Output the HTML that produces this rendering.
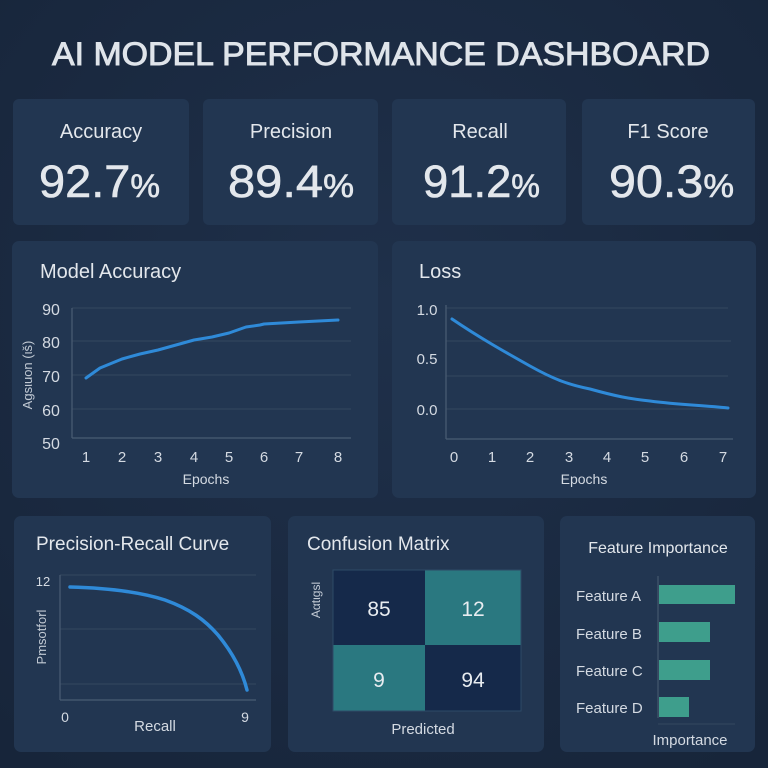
<!DOCTYPE html>
<html><head><meta charset="utf-8"><style>
html,body{margin:0;padding:0;background:#1b2a40;}
svg{display:block;font-family:"Liberation Sans","DejaVu Sans",sans-serif;}
</style></head><body>
<svg width="768" height="768" viewBox="0 0 768 768" xmlns="http://www.w3.org/2000/svg">
<defs><radialGradient id="bg" cx="50%" cy="40%" r="75%"><stop offset="0" stop-color="#1f304a"/><stop offset="1" stop-color="#17253a"/></radialGradient></defs>
<rect width="768" height="768" fill="url(#bg)"/>
<text x="52" y="65" font-size="32" fill="#dfe4ea" stroke="#dfe4ea" stroke-width="0.9" textLength="658" lengthAdjust="spacingAndGlyphs">AI MODEL PERFORMANCE DASHBOARD</text>
<g fill="#223651">
<rect x="13" y="99" width="176" height="126" rx="6"/>
<rect x="203" y="99" width="175" height="126" rx="6"/>
<rect x="392" y="99" width="174" height="126" rx="6"/>
<rect x="582" y="99" width="173" height="126" rx="6"/>
<rect x="12" y="241" width="366" height="257" rx="7"/>
<rect x="392" y="241" width="364" height="257" rx="7"/>
<rect x="14" y="516" width="257" height="236" rx="7"/>
<rect x="288" y="516" width="256" height="236" rx="7"/>
<rect x="560" y="516" width="195" height="236" rx="7"/>
</g>
<g fill="#e3e7ec" text-anchor="middle">
<text x="101" y="138" font-size="20">Accuracy</text>
<text x="291" y="138" font-size="20">Precision</text>
<text x="480" y="138" font-size="20">Recall</text>
<text x="668" y="138" font-size="20">F1 Score</text>
</g>
<g fill="#e3e7ec" font-size="45" stroke="#e3e7ec" stroke-width="0.6">
<text x="39" y="197" textLength="121" lengthAdjust="spacingAndGlyphs">92.7<tspan font-size="32">%</tspan></text>
<text x="228" y="197" textLength="126" lengthAdjust="spacingAndGlyphs">89.4<tspan font-size="32">%</tspan></text>
<text x="423" y="197" textLength="117" lengthAdjust="spacingAndGlyphs">91.2<tspan font-size="32">%</tspan></text>
<text x="609" y="197" textLength="125" lengthAdjust="spacingAndGlyphs">90.3<tspan font-size="32">%</tspan></text>
</g>
<!-- Model Accuracy -->
<text x="40" y="278" font-size="20" fill="#e3e7ec">Model Accuracy</text>
<g stroke="#34485f" stroke-width="1">
<line x1="72" y1="308" x2="351" y2="308"/><line x1="72" y1="341" x2="351" y2="341"/>
<line x1="72" y1="375" x2="351" y2="375"/><line x1="72" y1="409" x2="351" y2="409"/>
</g>
<g stroke="#4a5d74" stroke-width="1.2"><line x1="72" y1="308" x2="72" y2="438"/><line x1="72" y1="438" x2="351" y2="438"/></g>
<g fill="#d4dae2" font-size="16" text-anchor="middle">
<text x="51" y="315">90</text><text x="51" y="348">80</text><text x="51" y="382">70</text><text x="51" y="416">60</text><text x="51" y="449">50</text>
<text x="86" y="462" font-size="15">1</text><text x="122" y="462" font-size="15">2</text><text x="158" y="462" font-size="15">3</text><text x="194" y="462" font-size="15">4</text><text x="229" y="462" font-size="15">5</text><text x="264" y="462" font-size="15">6</text><text x="299" y="462" font-size="15">7</text><text x="338" y="462" font-size="15">8</text>
<text x="206" y="484" font-size="14">Epochs</text>
</g>
<text transform="translate(32,375) rotate(-90)" text-anchor="middle" font-size="13" fill="#c2cad4">Agsιuon (ιš)</text>
<polyline points="86,378 100,368 122,359 140,354 158,350 176,345 194,340 212,337 229,333 246,327 260,325 264,324 299,322 338,320" fill="none" stroke="#2f8ad8" stroke-width="3" stroke-linejoin="round" stroke-linecap="round"/>
<!-- Loss -->
<text x="419" y="278" font-size="20" fill="#e3e7ec">Loss</text>
<g stroke="#34485f"><line x1="446" y1="308" x2="728" y2="308"/><line x1="446" y1="341" x2="731" y2="341"/><line x1="446" y1="376" x2="728" y2="376"/><line x1="446" y1="409" x2="728" y2="409"/></g>
<g stroke="#4a5d74" stroke-width="1.2"><line x1="446" y1="305" x2="446" y2="439"/><line x1="446" y1="439" x2="733" y2="439"/></g>
<g fill="#d4dae2" font-size="15" text-anchor="middle">
<text x="427" y="315">1.0</text><text x="427" y="364">0.5</text><text x="427" y="415">0.0</text>
<text x="454" y="462">0</text><text x="492" y="462">1</text><text x="530" y="462">2</text><text x="569" y="462">3</text><text x="607" y="462">4</text><text x="645" y="462">5</text><text x="684" y="462">6</text><text x="723" y="462">7</text>
<text x="584" y="484" font-size="14">Epochs</text>
</g>
<path d="M452,319 C480,338 505,352 530,366 C555,380 570,385 590,389 C615,396 630,399 650,401 C680,405 700,405 728,408" fill="none" stroke="#2f8ad8" stroke-width="3" stroke-linecap="round"/>
<!-- PR -->
<text x="36" y="550" font-size="19" fill="#e3e7ec">Precision-Recall Curve</text>
<g stroke="#34485f"><line x1="60" y1="575" x2="256" y2="575"/><line x1="60" y1="629" x2="256" y2="629"/><line x1="60" y1="684" x2="256" y2="684"/></g>
<g stroke="#4a5d74" stroke-width="1.2"><line x1="60" y1="575" x2="60" y2="700"/><line x1="60" y1="700" x2="256" y2="700"/></g>
<text x="43" y="586" font-size="13" fill="#d4dae2" text-anchor="middle">12</text>
<text x="65" y="722" font-size="14" fill="#d4dae2" text-anchor="middle">0</text>
<text x="245" y="722" font-size="14" fill="#d4dae2" text-anchor="middle">9</text>
<text x="155" y="731" font-size="15" fill="#d4dae2" text-anchor="middle">Recall</text>
<text transform="translate(46,637) rotate(-90)" text-anchor="middle" font-size="13" fill="#c2cad4">Pmsotforl</text>
<path d="M70,587 C110,588 140,592 165,600 C190,609 205,620 218,635 C232,652 242,670 247,690" fill="none" stroke="#2f8ad8" stroke-width="3.5" stroke-linecap="round"/>
<!-- Confusion -->
<text x="307" y="550" font-size="19" fill="#e3e7ec">Confusion Matrix</text>
<rect x="333" y="570" width="92" height="75" fill="#15294a"/>
<rect x="425" y="570" width="96" height="75" fill="#2a7880"/>
<rect x="333" y="645" width="92" height="66" fill="#2a7880"/>
<rect x="425" y="645" width="96" height="66" fill="#15294a"/>
<rect x="333" y="570" width="188" height="141" fill="none" stroke="#2d4a66" stroke-width="1"/>
<g fill="#e8ecf0" font-size="21" text-anchor="middle">
<text x="379" y="616">85</text><text x="473" y="616">12</text><text x="379" y="687">9</text><text x="473" y="687">94</text>
</g>
<text transform="translate(320,600) rotate(-90)" text-anchor="middle" font-size="12" fill="#c2cad4">Aαtιgsl</text>
<text x="423" y="734" font-size="15" fill="#d4dae2" text-anchor="middle">Predicted</text>
<!-- Feature -->
<text x="658" y="553" font-size="16" fill="#e3e7ec" text-anchor="middle">Feature Importance</text>
<line x1="658" y1="576" x2="658" y2="718" stroke="#4a5d74"/>
<line x1="658" y1="724" x2="735" y2="724" stroke="#34485f"/>
<g fill="#3e9e8c">
<rect x="659" y="585" width="76" height="19"/><rect x="659" y="622" width="51" height="20"/><rect x="659" y="660" width="51" height="20"/><rect x="659" y="697" width="30" height="20"/>
</g>
<g fill="#d4dae2" font-size="15">
<text x="576" y="601">Feature A</text><text x="576" y="639">Feature B</text><text x="576" y="676">Feature C</text><text x="576" y="713">Feature D</text>
<text x="690" y="745" text-anchor="middle">Importance</text>
</g>
</svg>
</body></html>
